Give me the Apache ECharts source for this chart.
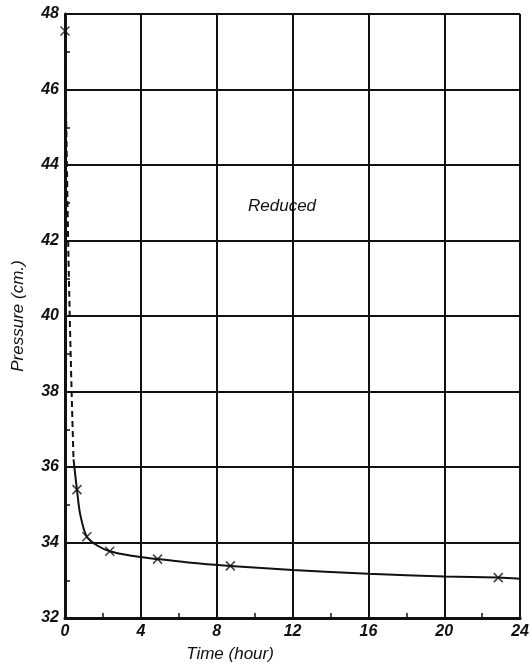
<!DOCTYPE html>
<html>
<head>
    <meta http-equiv="Content-Type" content="text/html; charset=utf-8" />
    <title>Reduced</title>
    <style>
        html, body { margin: 0; padding: 0; background: #fff; }
        #main { width: 532px; height: 671px; }
    </style>
</head>
<body>
    <div id="main"></div>
    <script src="https://cdn.jsdelivr.net/npm/echarts@6/dist/echarts.min.js"></script>
    <script type="text/javascript">
        // measured points (time in hours, pressure in cm)
        var markTime = [0, 0.63, 1.15, 2.36, 4.88, 8.72, 22.85];
        var markPressure = [47.55, 35.4, 34.15, 33.77, 33.56, 33.38, 33.07];

        // hand drawn curve
        var dashTime = [0, 0.1, 0.25, 0.45];
        var dashPressure = [47.55, 44, 40, 36.2];
        var curveTime = [0.45, 0.63, 0.8, 1.15, 1.7, 2.36, 3.5, 4.88, 6.5, 8.72, 12, 16, 20, 22.85, 24];
        var curvePressure = [36.2, 35.4, 34.75, 34.15, 33.92, 33.77, 33.65, 33.56, 33.47, 33.38, 33.27, 33.17, 33.1, 33.07, 33.04];

        var font = 'Liberation Sans';
        var ink = '#111';

        function pairs(xs, ys) {
            return xs.map(function (x, i) { return [x, ys[i]]; });
        }

        var myChart = echarts.init(document.getElementById('main'));

        var option = {
            animation: false,
            backgroundColor: '#fff',
            grid: { left: 65, right: 10, top: 14, bottom: 53 },
            xAxis: {
                type: 'value',
                min: 0, max: 24, interval: 4,
                name: 'Time (hour)',
                nameLocation: 'middle',
                nameGap: 28,
                nameTextStyle: { fontFamily: font, fontStyle: 'italic', fontSize: 17, color: ink, padding: [0, 125, 0, 0] },
                axisLine: { lineStyle: { color: ink, width: 3 } },
                axisTick: { show: false, inside: true },
                minorTick: { show: true, splitNumber: 2, length: 5, lineStyle: { color: ink, width: 1.5 } },
                axisLabel: { fontFamily: font, fontStyle: 'italic', fontWeight: 'bold', fontSize: 16, color: ink, margin: 6 },
                splitLine: { show: true, lineStyle: { color: ink, width: 2 } }
            },
            yAxis: {
                type: 'value',
                min: 32, max: 48, interval: 2,
                name: 'Pressure (cm.)',
                nameLocation: 'middle',
                nameGap: 38,
                nameTextStyle: { fontFamily: font, fontStyle: 'italic', fontSize: 17, color: ink },
                axisLine: { show: true, lineStyle: { color: ink, width: 3 } },
                axisTick: { show: false, inside: true },
                minorTick: { show: true, splitNumber: 2, length: 5, lineStyle: { color: ink, width: 1.5 } },
                axisLabel: { fontFamily: font, fontStyle: 'italic', fontWeight: 'bold', fontSize: 16, color: ink, margin: 6 },
                splitLine: { show: true, lineStyle: { color: ink, width: 2 } }
            },
            graphic: [{
                type: 'text',
                left: 248, top: 198,
                style: { text: 'Reduced', font: 'italic 17px "Liberation Sans"', fill: ink }
            }],
            series: [
                {
                    type: 'line',
                    data: pairs(dashTime, dashPressure),
                    symbol: 'none',
                    smooth: true,
                    lineStyle: { color: ink, width: 2, type: [6, 4] }
                },
                {
                    type: 'line',
                    data: pairs(curveTime, curvePressure),
                    symbol: 'none',
                    smooth: 0.3,
                    lineStyle: { color: ink, width: 2 }
                },
                {
                    type: 'scatter',
                    data: pairs(markTime, markPressure),
                    symbol: 'path://M0,0L10,10M10,0L0,10',
                    symbolSize: 9,
                    itemStyle: { color: 'none', borderColor: ink, borderWidth: 1.5 }
                }
            ]
        };

        myChart.setOption(option);
    </script>
</body>
</html>
